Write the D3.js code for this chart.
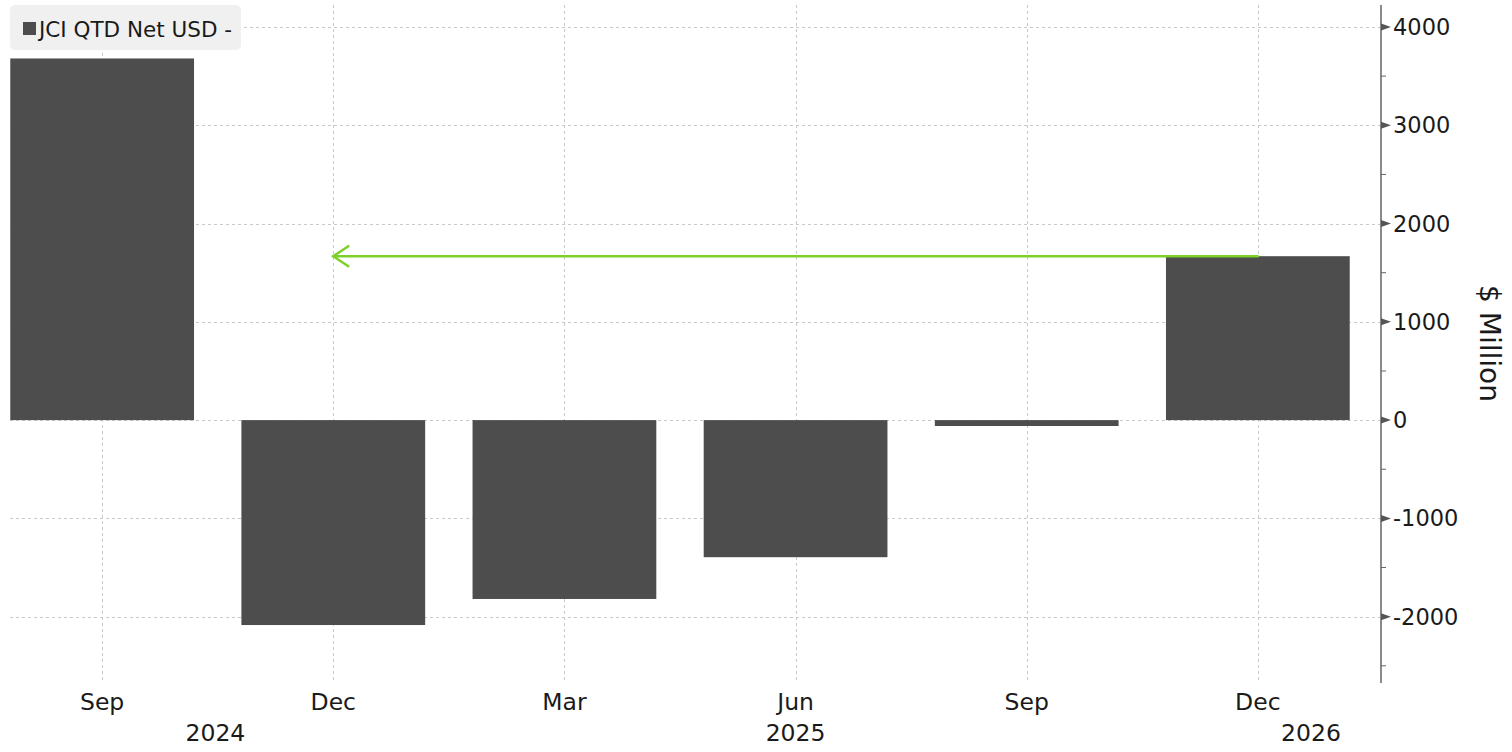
<!DOCTYPE html>
<html>
<head>
<meta charset="utf-8">
<script src="https://cdn.jsdelivr.net/npm/d3@7"></script>
<style>
  body { margin: 0; background: #fff; }
  svg { display: block; font-family: "DejaVu Sans", sans-serif; }
</style>
</head>
<body>
<div class="chart-container"></div>
<script>
// data
const quarters = ['Sep', 'Dec', 'Mar', 'Jun', 'Sep', 'Dec'];
const netValues = [3680, -2085, -1820, -1395, -60, 1668];
const yTicks = [4000, 3000, 2000, 1000, 0, -1000, -2000];
const yMinorTicks = [3500, 2500, 1500, 500, -500, -1500, -2500];
// year labels sit between quarter slots (fractional slot index)
const yearLabels = ['2024', '2025', '2026'];
const yearSlots = [0.49, 3, 5.23];
const seriesName = 'JCI QTD Net USD -';
// arrow drawn from last quarter back to the Dec 2024 slot, at last value
const arrowFrom = 5, arrowTo = 1;

const W = 1512, H = 752;
const axisX = 1381;
const plot = {l: 10, t: 5, b: 683};
const barColor = '#4d4d4d';

const svg = d3.select('.chart-container').append('svg')
    .attr('width', W)
    .attr('height', H);

const idx = d3.range(quarters.length);
const scaleX = d3.scaleBand()
    .domain(idx)
    .range([-14, 1374])
    .paddingInner(0.205)
    .paddingOuter(0.105);
const slotCenter = d3.scaleLinear()
    .domain([0, quarters.length - 1])
    .range([scaleX(0) + scaleX.bandwidth() / 2, scaleX(quarters.length - 1) + scaleX.bandwidth() / 2]);

const scaleY = d3.scaleLinear()
    .domain([-2675, 4224])
    .range([plot.b, plot.t]);

// grid
const grid = svg.append('g').attr('class', 'grid')
    .attr('stroke', '#c8c8c8')
    .attr('stroke-width', 1)
    .attr('stroke-dasharray', '3,3');
grid.selectAll('.hgrid')
    .data(yTicks)
    .enter().append('line')
    .attr('x1', plot.l).attr('x2', axisX)
    .attr('y1', d => Math.round(scaleY(d)) + 0.5)
    .attr('y2', d => Math.round(scaleY(d)) + 0.5);
grid.selectAll('.vgrid')
    .data(idx)
    .enter().append('line')
    .attr('y1', plot.t).attr('y2', plot.b)
    .attr('x1', d => Math.round(slotCenter(d)) + 0.5)
    .attr('x2', d => Math.round(slotCenter(d)) + 0.5);

// bars
svg.append('g').selectAll('rect')
    .data(netValues)
    .enter().append('rect')
    .attr('x', (d, i) => Math.max(plot.l, scaleX(i)))
    .attr('width', (d, i) => scaleX.bandwidth() - (Math.max(plot.l, scaleX(i)) - scaleX(i)))
    .attr('y', d => scaleY(Math.max(0, d)))
    .attr('height', d => Math.abs(scaleY(d) - scaleY(0)))
    .attr('fill', barColor);

// arrow annotation
const arrowY = scaleY(netValues[arrowFrom]);
const arrowG = svg.append('g')
    .attr('stroke', '#7ed02a')
    .attr('stroke-width', 2.5)
    .attr('fill', 'none')
    .attr('stroke-linecap', 'round');
arrowG.append('line')
    .attr('x1', slotCenter(arrowFrom)).attr('x2', slotCenter(arrowTo))
    .attr('y1', arrowY).attr('y2', arrowY);
arrowG.append('path')
    .attr('d', d3.line()([
        [slotCenter(arrowTo) + 15, arrowY - 10],
        [slotCenter(arrowTo), arrowY],
        [slotCenter(arrowTo) + 15, arrowY + 10]
    ]));

// right axis
const axisG = svg.append('g').attr('class', 'axis-y');
axisG.append('line')
    .attr('x1', axisX).attr('x2', axisX)
    .attr('y1', plot.t).attr('y2', plot.b)
    .attr('stroke', '#8a8a8a')
    .attr('stroke-width', 2);
axisG.selectAll('.minor')
    .data(yMinorTicks)
    .enter().append('line')
    .attr('x1', axisX).attr('x2', axisX + 5)
    .attr('y1', d => scaleY(d)).attr('y2', d => scaleY(d))
    .attr('stroke', '#666')
    .attr('stroke-width', 1);
axisG.selectAll('.major')
    .data(yTicks)
    .enter().append('path')
    .attr('d', d => `M${axisX},${scaleY(d) - 3.5}L${axisX + 10},${scaleY(d)}L${axisX},${scaleY(d) + 3.5}Z`)
    .attr('fill', '#555');
axisG.selectAll('text')
    .data(yTicks)
    .enter().append('text')
    .attr('x', axisX + 12)
    .attr('y', d => scaleY(d))
    .attr('dy', '0.36em')
    .attr('font-size', 22.5)
    .attr('fill', '#1a1a1a')
    .text(d => d < 0 ? '-' + Math.abs(d) : d);

svg.append('text')
    .attr('transform', `translate(1480,${scaleY(780)}) rotate(90)`)
    .attr('text-anchor', 'middle')
    .attr('font-size', 28)
    .attr('fill', '#1a1a1a')
    .text('$ Million');

// x labels
const xLab = svg.append('g').attr('class', 'axis-x')
    .attr('font-size', 23.5)
    .attr('fill', '#1a1a1a')
    .attr('text-anchor', 'middle');
xLab.selectAll('.month')
    .data(quarters)
    .enter().append('text')
    .attr('x', (d, i) => slotCenter(i))
    .attr('y', 710)
    .text(d => d);
xLab.selectAll('.year')
    .data(yearLabels)
    .enter().append('text')
    .attr('x', (d, i) => slotCenter(yearSlots[i]))
    .attr('y', 741)
    .text(d => d);

// legend
const legend = svg.append('g').attr('class', 'legend');
legend.append('rect')
    .attr('x', 10).attr('y', 5)
    .attr('width', 231).attr('height', 45)
    .attr('rx', 5)
    .attr('fill', '#f0f0f0');
legend.append('rect')
    .attr('x', 23).attr('y', 22)
    .attr('width', 13).attr('height', 13)
    .attr('fill', barColor);
legend.append('text')
    .attr('x', 39).attr('y', 29)
    .attr('dy', '0.36em')
    .attr('font-size', 21.5)
    .attr('fill', '#1a1a1a')
    .text(seriesName);
</script>
</body>
</html>
